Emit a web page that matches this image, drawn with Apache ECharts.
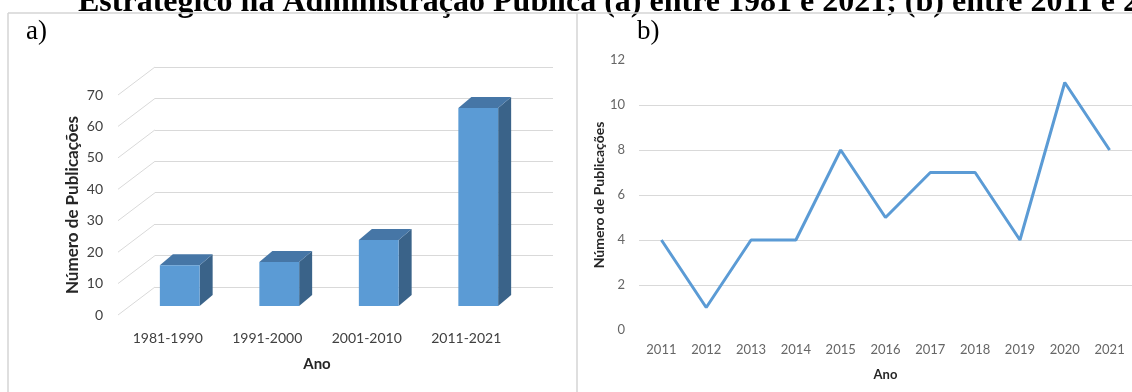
<!DOCTYPE html>
<html>
<head>
<meta charset="utf-8">
<style>
html,body{margin:0;padding:0;background:#fff;}
#main{width:1132px;height:392px;}
</style>
</head>
<body>
<div id="main"></div>
<script src="https://cdn.jsdelivr.net/npm/echarts@6/dist/echarts.min.js"></script>
<script>
// a) publicações por década
var decadas = ['1981-1990', '1991-2000', '2001-2010', '2011-2021'];
var pubDecada = [13, 14, 21, 63];
var ticksA = [0, 10, 20, 30, 40, 50, 60, 70];
// b) publicações por ano
var anos = ['2011', '2012', '2013', '2014', '2015', '2016', '2017', '2018', '2019', '2020', '2021'];
var pubAno = [4, 1, 4, 4, 8, 5, 7, 7, 4, 11, 8];

var DX = 37, DY = 28;      // profundidade da parede (frente -> fundo)
var FX = 25, FY = 19;      // face frontal da barra, medida a partir do fundo
var BX = 13, BY = 11;      // profundidade da barra
var corBorda = '#d4d4d4';
var corGrade = '#d9d9d9';

var chart = echarts.init(document.getElementById('main'));

// linhas inclinadas da parede lateral
function paredeLateral(params, api) {
    var p = api.coord([0, api.value(1)]);
    var x0 = params.coordSys.x;
    return {
        type: 'line',
        shape: {x1: x0, y1: p[1], x2: x0 + DX, y2: p[1] - DY},
        style: {stroke: corGrade, lineWidth: 1}
    };
}

// barra 3D: frente, topo e lado
function barra3d(params, api) {
    var i = api.value(0);
    var b0 = api.coord([i, 0]);
    var b1 = api.coord([i, api.value(1)]);
    var w = api.size([1, 0])[0] * 0.4;
    var x = b0[0] - FX - w / 2;
    var yTop = b1[1] + FY, yBase = b0[1] + FY;
    return {
        type: 'group',
        children: [{
            type: 'polygon',
            shape: {points: [[x + w, yTop], [x + w + BX, yTop - BY], [x + w + BX, yBase - BY], [x + w, yBase]]},
            style: {fill: '#3a6389'}
        }, {
            type: 'polygon',
            shape: {points: [[x, yTop], [x + BX, yTop - BY], [x + w + BX, yTop - BY], [x + w, yTop]]},
            style: {fill: '#4676a6'}
        }, {
            type: 'rect',
            shape: {x: x, y: yTop, width: w, height: yBase - yTop},
            style: {fill: '#5b9bd5'}
        }]
    };
}

var option = {
    animation: false,
    textStyle: {fontFamily: 'Lato'},
    grid: [
        {left: 118, top: 95, width: 398, height: 220},   // a) frente
        {left: 155, top: 67, width: 398, height: 220},   // a) fundo
        {left: 639, top: 60, width: 496, height: 270}    // b)
    ],
    xAxis: [{
        gridIndex: 0, type: 'category', data: decadas,
        axisLine: {show: false}, axisTick: {show: false},
        axisLabel: {color: '#404040', fontSize: 14, margin: 16},
        name: 'Ano', nameLocation: 'middle', nameGap: 42,
        nameTextStyle: {color: '#262626', fontSize: 15, fontWeight: 'bold'}
    }, {
        gridIndex: 1, type: 'category', data: decadas,
        axisLine: {show: false}, axisTick: {show: false}, axisLabel: {show: false}
    }, {
        gridIndex: 2, type: 'category', data: anos,
        axisLine: {show: false}, axisTick: {show: false},
        axisLabel: {color: '#666', fontSize: 13, margin: 13},
        name: 'Ano', nameLocation: 'middle', nameGap: 38,
        nameTextStyle: {color: '#262626', fontSize: 13, fontWeight: 'bold'}
    }],
    yAxis: [{
        gridIndex: 0, type: 'value', min: 0, max: 70, interval: 10,
        axisLine: {show: false}, axisTick: {show: false}, splitLine: {show: false},
        axisLabel: {color: '#404040', fontSize: 14, margin: 15},
        name: 'Número de Publicações', nameLocation: 'middle', nameGap: 37,
        nameTextStyle: {color: '#262626', fontSize: 17, fontWeight: 'bold'}
    }, {
        gridIndex: 1, type: 'value', min: 0, max: 70, interval: 10,
        axisLine: {show: false}, axisTick: {show: false}, axisLabel: {show: false},
        splitLine: {lineStyle: {color: corGrade, width: 1}}
    }, {
        gridIndex: 2, type: 'value', min: 0, max: 12, interval: 2,
        axisLine: {show: false}, axisTick: {show: false},
        axisLabel: {color: '#666', fontSize: 13, margin: 14},
        splitLine: {showMinLine: false, showMaxLine: false, lineStyle: {color: corGrade, width: 1}},
        name: 'Número de Publicações', nameLocation: 'middle', nameGap: 32,
        nameTextStyle: {color: '#262626', fontSize: 14, fontWeight: 'bold'}
    }],
    series: [{
        type: 'custom', xAxisIndex: 0, yAxisIndex: 0,
        renderItem: paredeLateral,
        data: ticksA.map(function (t) { return [0, t]; })
    }, {
        type: 'custom', xAxisIndex: 1, yAxisIndex: 1,
        renderItem: barra3d,
        data: pubDecada.map(function (v, i) { return [i, v]; })
    }, {
        type: 'line', xAxisIndex: 2, yAxisIndex: 2,
        data: pubAno, symbol: 'none',
        lineStyle: {color: '#5b9bd5', width: 3}
    }],
    graphic: [
        {type: 'text', left: 78, top: -13, style: {text: 'Estratégico na Administração Pública (a) entre 1981 e 2021; (b) entre 2011 e 2021', font: 'bold 32px "Liberation Serif"', fill: '#000'}},
        {type: 'line', shape: {x1: 8, y1: 13, x2: 1132, y2: 13}, style: {stroke: corBorda, lineWidth: 1.5}},
        {type: 'line', shape: {x1: 8, y1: 13, x2: 8, y2: 392}, style: {stroke: corBorda, lineWidth: 1.5}},
        {type: 'line', shape: {x1: 577, y1: 13, x2: 577, y2: 392}, style: {stroke: corBorda, lineWidth: 1.5}},
        {type: 'text', left: 26, top: 18, style: {text: 'a)', font: '27px "Liberation Serif"', fill: '#000'}},
        {type: 'text', left: 637, top: 18, style: {text: 'b)', font: '27px "Liberation Serif"', fill: '#000'}}
    ]
};

chart.setOption(option);
</script>
</body>
</html>
